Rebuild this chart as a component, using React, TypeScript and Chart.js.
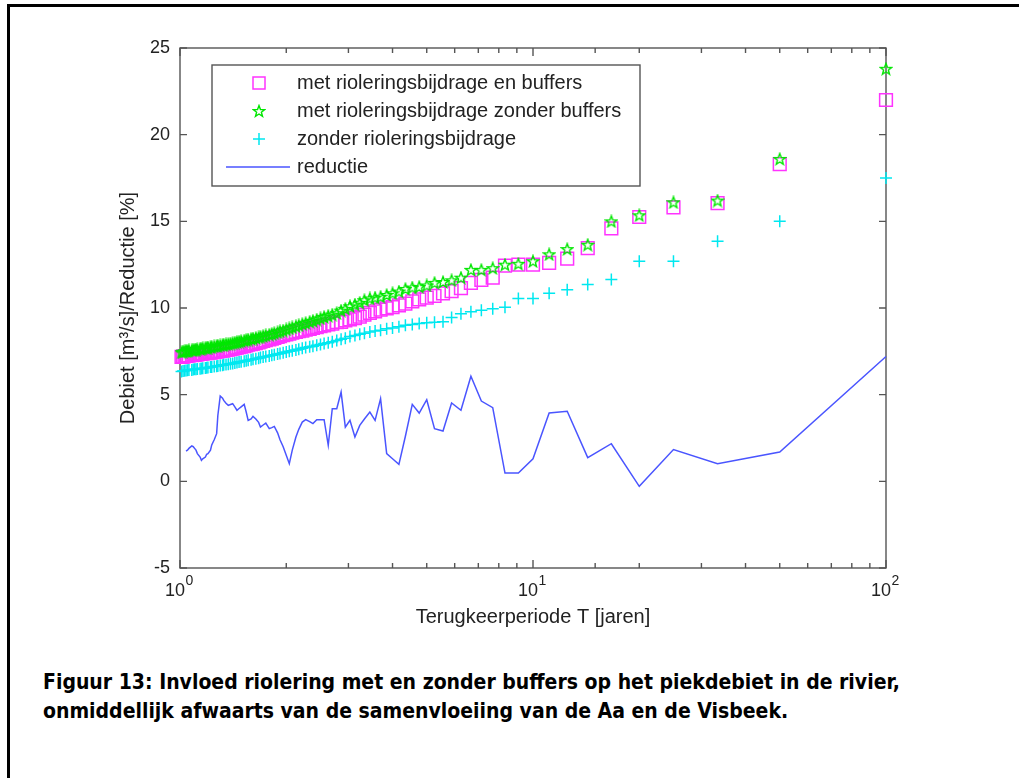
import React, { useEffect, useRef } from 'react';
import { Chart, registerables } from 'chart.js';

Chart.register(...registerables);

// Return period T (years) for each ranked event
const returnPeriods = [
  100, 50, 33.33, 25, 20, 16.67, 14.29, 12.5, 11.11, 10,
  9.09, 8.33, 7.69, 7.14, 6.67, 6.25, 5.88, 5.56, 5.26, 5,
  4.76, 4.55, 4.35, 4.17, 4, 3.85, 3.7, 3.57, 3.45, 3.33,
  3.23, 3.13, 3.03, 2.94, 2.86, 2.78, 2.7, 2.63, 2.56, 2.5,
  2.44, 2.38, 2.33, 2.27, 2.22, 2.17, 2.13, 2.08, 2.04, 2,
  1.96, 1.92, 1.89, 1.85, 1.82, 1.79, 1.75, 1.72, 1.69, 1.67,
  1.64, 1.61, 1.59, 1.56, 1.54, 1.52, 1.49, 1.47, 1.45, 1.43,
  1.41, 1.39, 1.37, 1.35, 1.33, 1.32, 1.3, 1.28, 1.27, 1.25,
  1.23, 1.22, 1.2, 1.19, 1.18, 1.16, 1.15, 1.14, 1.12, 1.11,
  1.1, 1.09, 1.08, 1.06, 1.05, 1.04, 1.03, 1.02, 1.01,
];

// met rioleringsbijdrage en buffers (m3/s)
const metBuffers = [
  22.0, 18.3, 16.05, 15.8, 15.25, 14.6, 13.45, 12.85, 12.6, 12.5,
  12.5, 12.45, 11.75, 11.62, 11.45, 11.15, 10.98, 10.85, 10.7, 10.6,
  10.5, 10.38, 10.25, 10.15, 10.05, 9.98, 9.9, 9.8, 9.72, 9.62,
  9.5, 9.42, 9.35, 9.28, 9.2, 9.18, 9.1, 9.05, 9.0, 8.95,
  8.9, 8.85, 8.8, 8.75, 8.7, 8.66, 8.62, 8.58, 8.52, 8.48,
  8.43, 8.38, 8.33, 8.28, 8.23, 8.19, 8.14, 8.1, 8.06, 8.02,
  7.98, 7.94, 7.91, 7.88, 7.84, 7.8, 7.77, 7.74, 7.71, 7.68,
  7.65, 7.62, 7.6, 7.58, 7.56, 7.54, 7.52, 7.5, 7.48, 7.46,
  7.45, 7.43, 7.42, 7.4, 7.39, 7.38, 7.36, 7.35, 7.33, 7.32,
  7.3, 7.29, 7.28, 7.26, 7.25, 7.24, 7.22, 7.2, 7.18,
];

// met rioleringsbijdrage zonder buffers (m3/s)
const zonderBuffers = [
  23.8, 18.6, 16.2, 16.1, 15.35, 15.0, 13.65, 13.4, 13.1, 12.7,
  12.55, 12.5, 12.3, 12.2, 12.2, 11.75, 11.6, 11.5, 11.45, 11.3,
  11.22, 11.18, 11.1, 10.95, 10.85, 10.75, 10.65, 10.6, 10.55, 10.45,
  10.3, 10.2, 10.1, 9.95, 9.85, 9.7, 9.62, 9.55, 9.48, 9.4,
  9.33, 9.26, 9.2, 9.13, 9.07, 9.0, 8.94, 8.88, 8.82, 8.76,
  8.7, 8.65, 8.6, 8.55, 8.5, 8.46, 8.42, 8.38, 8.34, 8.3,
  8.27, 8.24, 8.21, 8.18, 8.15, 8.12, 8.09, 8.06, 8.03, 8.0,
  7.97, 7.95, 7.92, 7.9, 7.88, 7.86, 7.84, 7.82, 7.8, 7.78,
  7.76, 7.74, 7.72, 7.7, 7.69, 7.67, 7.65, 7.64, 7.62, 7.6,
  7.59, 7.57, 7.56, 7.55, 7.53, 7.52, 7.5, 7.48, 7.45,
];

// zonder rioleringsbijdrage (m3/s)
const zonderRiolering = [
  17.5, 15.0, 13.85, 12.7, 12.7, 11.65, 11.35, 11.05, 10.85, 10.55,
  10.55, 10.05, 9.96, 9.87, 9.78, 9.67, 9.45, 9.2, 9.18, 9.15,
  9.1, 9.05, 9.0, 8.92, 8.85, 8.8, 8.72, 8.67, 8.62, 8.55,
  8.48, 8.42, 8.35, 8.25, 8.2, 8.12, 8.05, 8.0, 7.95, 7.9,
  7.85, 7.8, 7.76, 7.72, 7.68, 7.62, 7.58, 7.54, 7.5, 7.46,
  7.42, 7.38, 7.34, 7.3, 7.27, 7.23, 7.2, 7.17, 7.14, 7.1,
  7.07, 7.04, 7.01, 6.98, 6.96, 6.93, 6.9, 6.88, 6.85, 6.83,
  6.8, 6.78, 6.76, 6.74, 6.72, 6.7, 6.68, 6.66, 6.64, 6.62,
  6.6, 6.59, 6.57, 6.56, 6.54, 6.53, 6.51, 6.5, 6.48, 6.47,
  6.46, 6.45, 6.43, 6.42, 6.41, 6.4, 6.38, 6.36, 6.33,
];

// reductie (%) for the first 96 return periods
const reductie = [
  7.2, 1.69, 1.02, 1.83, -0.29, 2.17, 1.37, 4.04, 3.94, 1.3,
  0.48, 0.48, 4.25, 4.63, 6.06, 4.1, 4.52, 2.9, 3.04, 4.71,
  3.94, 4.44, 2.6, 0.98, 1.3, 1.6, 4.77, 3.52, 4.0, 3.6,
  3.23, 2.56, 3.52, 3.13, 5.15, 4.19, 4.19, 2.08, 3.56, 3.56,
  3.56, 3.33, 3.45, 3.56, 3.42, 3.0, 2.56, 1.8, 1.02, 1.5,
  2.0, 2.4, 2.8, 3.17, 3.1, 3.04, 3.36, 3.25, 3.13, 3.4,
  3.6, 3.75, 3.6, 3.52, 4.0, 4.44, 4.3, 4.2, 4.1, 4.3,
  4.48, 4.43, 4.38, 4.5, 4.67, 4.8, 4.92, 3.8, 2.75, 2.4,
  2.1, 1.8, 1.6, 1.56, 1.4, 1.3, 1.21, 1.4, 1.6, 1.8,
  1.9, 2.0, 2.04, 1.9, 1.8, 1.75,
];

const seriesLabels = [
  'met rioleringsbijdrage en buffers',
  'met rioleringsbijdrage zonder buffers',
  'zonder rioleringsbijdrage',
  'reductie',
];
const xMajorValues = [1, 10, 100];
const xMajorBase = '10';
const xMajorExponents = ['0', '1', '2'];
const xTitle = 'Terugkeerperiode T [jaren]';
const yTitle = 'Debiet [m\u00b3/s]/Reductie [%]';
const captionLines = [
  'Figuur 13: Invloed riolering met en zonder buffers op het piekdebiet in de rivier,',
  'onmiddellijk afwaarts van de samenvloeiing van de Aa en de Visbeek.',
];

const MAGENTA = '#ff33ff';
const GREEN = '#00e600';
const CYAN = '#00e8f0';
const BLUE = '#4a55ff';
const TEXT = '#222';
const FONT = "'Liberation Sans', Arial, sans-serif";

function makePentagram(color: string): HTMLCanvasElement {
  const c = document.createElement('canvas');
  c.width = 14;
  c.height = 14;
  const ctx = c.getContext('2d')!;
  const cx = 7, cy = 7.5, ro = 6, ri = 2.5;
  ctx.beginPath();
  for (let i = 0; i < 10; i++) {
    const r = i % 2 === 0 ? ro : ri;
    const a = -Math.PI / 2 + (i * Math.PI) / 5;
    const px = cx + r * Math.cos(a);
    const py = cy + r * Math.sin(a);
    if (i === 0) ctx.moveTo(px, py);
    else ctx.lineTo(px, py);
  }
  ctx.closePath();
  ctx.strokeStyle = color;
  ctx.lineWidth = 1.4;
  ctx.stroke();
  return c;
}

const axesPlugin = {
  id: 'matlabAxes',
  beforeDatasetsDraw(chart: any) {
    const { ctx, chartArea: a } = chart;
    const xs = chart.scales.x;
    const ys = chart.scales.y;
    ctx.save();
    ctx.strokeStyle = '#555';
    ctx.lineWidth = 1.4;
    ctx.strokeRect(a.left, a.top, a.right - a.left, a.bottom - a.top);
    ctx.beginPath();
    ys.ticks.forEach((t: any) => {
      const p = ys.getPixelForValue(t.value);
      ctx.moveTo(a.left, p);
      ctx.lineTo(a.left + 7, p);
      ctx.moveTo(a.right, p);
      ctx.lineTo(a.right - 7, p);
    });
    xs.ticks.forEach((t: any) => {
      const p = xs.getPixelForValue(t.value);
      const major = xMajorValues.indexOf(t.value) >= 0;
      const len = major ? 8 : 5;
      ctx.moveTo(p, a.bottom);
      ctx.lineTo(p, a.bottom - len);
      ctx.moveTo(p, a.top);
      ctx.lineTo(p, a.top + len);
    });
    ctx.stroke();

    // major x tick labels 10^n with a raised exponent
    ctx.fillStyle = TEXT;
    ctx.textBaseline = 'middle';
    ctx.textAlign = 'left';
    xMajorValues.forEach((v, i) => {
      const p = xs.getPixelForValue(v);
      ctx.font = `18px ${FONT}`;
      const wb = ctx.measureText(xMajorBase).width;
      ctx.font = `14px ${FONT}`;
      const we = ctx.measureText(xMajorExponents[i]).width;
      const start = p - (wb + we) / 2 - 1;
      ctx.font = `18px ${FONT}`;
      ctx.fillText(xMajorBase, start, a.bottom + 23);
      ctx.font = `14px ${FONT}`;
      ctx.fillText(xMajorExponents[i], start + wb + 0.5, a.bottom + 13);
    });
    ctx.restore();
  },
};

function makeLegendPlugin(star: HTMLCanvasElement) {
  return {
    id: 'matlabLegend',
    afterDatasetsDraw(chart: any) {
      const { ctx, chartArea: a } = chart;
      const left = a.left + 32;
      const top = a.top + 17;
      const w = 428;
      const h = 121;
      ctx.save();
      ctx.fillStyle = '#fff';
      ctx.fillRect(left, top, w, h);
      ctx.strokeStyle = '#555';
      ctx.lineWidth = 1.4;
      ctx.strokeRect(left, top, w, h);
      ctx.font = `20px ${FONT}`;
      ctx.textBaseline = 'middle';
      ctx.textAlign = 'left';
      seriesLabels.forEach((lab, i) => {
        const ry = top + 18 + i * 28;
        const mx = left + 47;
        ctx.lineWidth = 1.5;
        if (i === 0) {
          ctx.strokeStyle = MAGENTA;
          ctx.strokeRect(mx - 6, ry - 6, 12, 12);
        } else if (i === 1) {
          ctx.drawImage(star, mx - 7, ry - 7);
        } else if (i === 2) {
          ctx.strokeStyle = CYAN;
          ctx.beginPath();
          ctx.moveTo(mx - 6, ry);
          ctx.lineTo(mx + 6, ry);
          ctx.moveTo(mx, ry - 6);
          ctx.lineTo(mx, ry + 6);
          ctx.stroke();
        } else {
          ctx.strokeStyle = BLUE;
          ctx.beginPath();
          ctx.moveTo(left + 14, ry);
          ctx.lineTo(left + 78, ry);
          ctx.stroke();
        }
        ctx.fillStyle = TEXT;
        ctx.fillText(lab, left + 85, ry);
      });
      ctx.restore();
    },
  };
}

export default function App() {
  const ref = useRef<HTMLCanvasElement>(null);

  useEffect(() => {
    if (!ref.current) return;
    const star = makePentagram(GREEN);
    const pts = (vals: number[]) => vals.map((v, i) => ({ x: returnPeriods[i], y: v }));
    const chart = new Chart(ref.current, {
      type: 'scatter',
      data: {
        datasets: [
          {
            label: seriesLabels[3],
            data: pts(reductie),
            showLine: true,
            borderColor: BLUE,
            borderWidth: 1.5,
            pointRadius: 0,
            order: 0,
            clip: false,
          } as any,
          {
            label: seriesLabels[2],
            data: pts(zonderRiolering),
            pointStyle: 'cross',
            pointRadius: 6,
            borderColor: CYAN,
            borderWidth: 1.5,
            order: 1,
            clip: false,
          },
          {
            label: seriesLabels[1],
            data: pts(zonderBuffers),
            pointStyle: star,
            pointRadius: 7,
            order: 2,
            clip: false,
          },
          {
            label: seriesLabels[0],
            data: pts(metBuffers),
            pointStyle: 'rect',
            pointRadius: 9,
            borderColor: MAGENTA,
            backgroundColor: 'rgba(0,0,0,0)',
            borderWidth: 1.5,
            order: 3,
            clip: false,
          },
        ],
      },
      options: {
        responsive: false,
        animation: false,
        devicePixelRatio: 1,
        layout: { padding: { left: 0, right: 133, top: 48, bottom: 0 } },
        plugins: { legend: { display: false }, tooltip: { enabled: false } },
        scales: {
          x: {
            type: 'logarithmic',
            min: 1,
            max: 100,
            grid: { display: false, drawTicks: false },
            border: { display: false },
            ticks: { display: false, autoSkip: false },
            title: {
              display: true,
              text: xTitle,
              color: TEXT,
              font: { family: FONT, size: 20 },
              padding: { top: 0, bottom: 11 },
            },
            afterFit: (s: any) => {
              s.height = 72;
            },
          },
          y: {
            type: 'linear',
            min: -5,
            max: 25,
            grid: { display: false, drawTicks: false },
            border: { display: false },
            ticks: {
              stepSize: 5,
              padding: 10,
              color: TEXT,
              font: { family: FONT, size: 18 },
            },
            title: {
              display: true,
              text: yTitle,
              color: TEXT,
              font: { family: FONT, size: 20 },
              padding: { top: 116, bottom: 0 },
            },
            afterFit: (s: any) => {
              s.width = 180;
            },
          },
        },
      } as any,
      plugins: [axesPlugin, makeLegendPlugin(star)],
    });
    return () => chart.destroy();
  }, []);

  return (
    <div
      style={{
        position: 'absolute',
        left: 0,
        top: 0,
        width: 1019,
        height: 778,
        overflow: 'hidden',
        background: '#fff',
      }}
    >
      <div
        style={{
          position: 'absolute',
          left: 7,
          top: 4,
          width: 1200,
          height: 1000,
          borderTop: '3px solid #000',
          borderLeft: '3px solid #000',
        }}
      />
      <canvas
        ref={ref}
        width={1019}
        height={640}
        style={{ position: 'absolute', left: 0, top: 0, width: 1019, height: 640 }}
      />
      <div
        style={{
          position: 'absolute',
          left: 43,
          top: 668,
          fontFamily: "'DejaVu Sans', sans-serif",
          fontStretch: 'condensed',
          fontWeight: 'bold',
          fontSize: 21,
          lineHeight: '29px',
          color: '#000',
          whiteSpace: 'nowrap',
        }}
      >
        {captionLines.map((l, i) => (
          <div key={i}>{l}</div>
        ))}
      </div>
    </div>
  );
}
